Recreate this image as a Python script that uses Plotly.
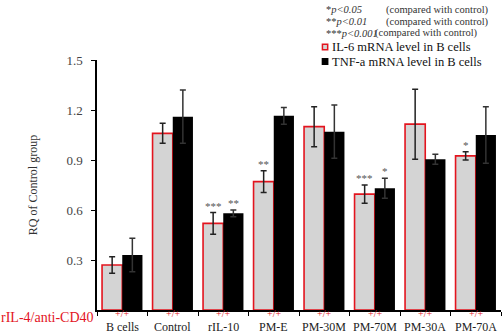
import plotly.graph_objects as go

# Group labels and treatment row
categories = ["B cells", "Control", "rIL-10", "PM-E", "PM-30M", "PM-70M", "PM-30A", "PM-70A"]
treatment = ["+/+"] * len(categories)

# Relative quantification (RQ) vs control group, with SD
il6_mean = [0.27, 1.06, 0.52, 0.77, 1.10, 0.695, 1.115, 0.925]
il6_sd = [0.05, 0.06, 0.065, 0.065, 0.12, 0.055, 0.21, 0.025]
tnf_mean = [0.33, 1.16, 0.58, 1.165, 1.07, 0.73, 0.905, 1.05]
tnf_sd = [0.10, 0.16, 0.02, 0.05, 0.16, 0.06, 0.03, 0.17]

# Significance marks vs control
il6_sig = ["", "", "***", "**", "", "***", "", "*"]
tnf_sig = ["", "", "**", "", "", "*", "", ""]

y_ticks = [0.3, 0.6, 0.9, 1.2, 1.5]

FONT = "Liberation Serif"
RED = "#e3141e"
GREY_FILL = "#d4d4d4"


def px_to_paper_y(py):
    # plot area spans 60..310 px vertically
    return (310 - py) / 250


fig = go.Figure()
fig.add_trace(go.Bar(
    x=categories, y=il6_mean, name="IL-6 mRNA level in B cells",
    marker=dict(color=GREY_FILL, line=dict(color=RED, width=1.6)),
    error_y=dict(type="data", array=il6_sd, color="#222", thickness=1.5, width=3),
))
fig.add_trace(go.Bar(
    x=categories, y=tnf_mean, name="TNF-a mRNA level in B cells",
    marker=dict(color="#000000", line=dict(color="#000000", width=0)),
    error_y=dict(type="data", array=tnf_sd, color="#333", thickness=1.5, width=3),
))

annotations = []
# significance stars above the error bars
for offset, means, sds, sigs in [(-0.2, il6_mean, il6_sd, il6_sig),
                                 (0.2, tnf_mean, tnf_sd, tnf_sig)]:
    for i, (m, s, t) in enumerate(zip(means, sds, sigs)):
        if t:
            annotations.append(dict(x=i + offset, y=m + s, xref="x", yref="y", text=t,
                                    showarrow=False, yanchor="bottom", borderpad=0,
                                    font=dict(family=FONT, size=11, color="#555")))

# treatment row and group names under the axis
for i, (c, tr) in enumerate(zip(categories, treatment)):
    annotations.append(dict(x=i, y=px_to_paper_y(313.5), xref="x", yref="paper", text=tr,
                            showarrow=False, yanchor="middle", borderpad=0,
                            font=dict(family=FONT, size=10, color=RED)))
    annotations.append(dict(x=i, y=px_to_paper_y(326.5), xref="x", yref="paper", text=c,
                            showarrow=False, yanchor="middle", borderpad=0,
                            font=dict(family=FONT, size=12, color="#222")))
annotations.append(dict(x=-0.2395, y=px_to_paper_y(317), xref="paper", yref="paper",
                        text="rIL-4/anti-CD40", showarrow=False,
                        xanchor="left", yanchor="middle", borderpad=0,
                        font=dict(family=FONT, size=14, color=RED)))

# significance key
notes = [("*<i>p&lt;0.05</i>", 0.7136), ("**<i>p&lt;0.01</i>", 0.7136), ("***<i>p&lt;0.001</i>", 0.686)]
for (txt, xc), py in zip(notes, [9.5, 21.5, 33.5]):
    yp = px_to_paper_y(py)
    annotations.append(dict(x=0.565, y=yp, xref="paper", yref="paper", text=txt,
                            showarrow=False, xanchor="left", yanchor="middle", borderpad=0,
                            font=dict(family=FONT, size=10.5, color="#333")))
    annotations.append(dict(x=xc, y=yp, xref="paper", yref="paper",
                            text="(compared with control)", showarrow=False,
                            xanchor="left", yanchor="middle", borderpad=0,
                            font=dict(family=FONT, size=10.5, color="#333")))

# legend key
shapes = []
for name, py, fill, edge in [("IL-6 mRNA level in B cells", 47, GREY_FILL, RED),
                             ("TNF-a mRNA level in B cells", 61.5, "#000", "#000")]:
    yp = px_to_paper_y(py)
    shapes.append(dict(type="rect", xref="paper", yref="paper",
                       x0=0.558, x1=0.571, y0=yp - 0.011, y1=yp + 0.011,
                       fillcolor=fill, line=dict(color=edge, width=1.5)))
    annotations.append(dict(x=0.579, y=yp, xref="paper", yref="paper", text=name,
                            showarrow=False, xanchor="left", yanchor="middle", borderpad=0,
                            font=dict(family=FONT, size=12.5, color="#111")))

fig.update_layout(
    width=502, height=334,
    margin=dict(l=97, r=1, t=60, b=24),
    paper_bgcolor="white", plot_bgcolor="white",
    barmode="group", bargap=0.2, bargroupgap=0,
    showlegend=False,
    font=dict(family=FONT, color="#333"),
    annotations=annotations, shapes=shapes,
)
fig.update_xaxes(
    showline=True, linecolor="#000", linewidth=1.5,
    ticks="outside", tickson="boundaries", ticklen=4, tickcolor="#000",
    showticklabels=False, showgrid=False, zeroline=False,
)
fig.update_yaxes(
    range=[0, 1.5], tickvals=y_ticks, ticktext=[f"{v:.1f}" for v in y_ticks],
    showline=True, linecolor="#000", linewidth=1.5,
    ticks="outside", ticklen=4, tickcolor="#000",
    tickfont=dict(family=FONT, size=13, color="#444"),
    ticklabelstandoff=6,
    showgrid=False, zeroline=False,
    title=dict(text="RQ of Control group", standoff=26,
               font=dict(family=FONT, size=12, color="#333")),
)

fig.write_html("out.html")
